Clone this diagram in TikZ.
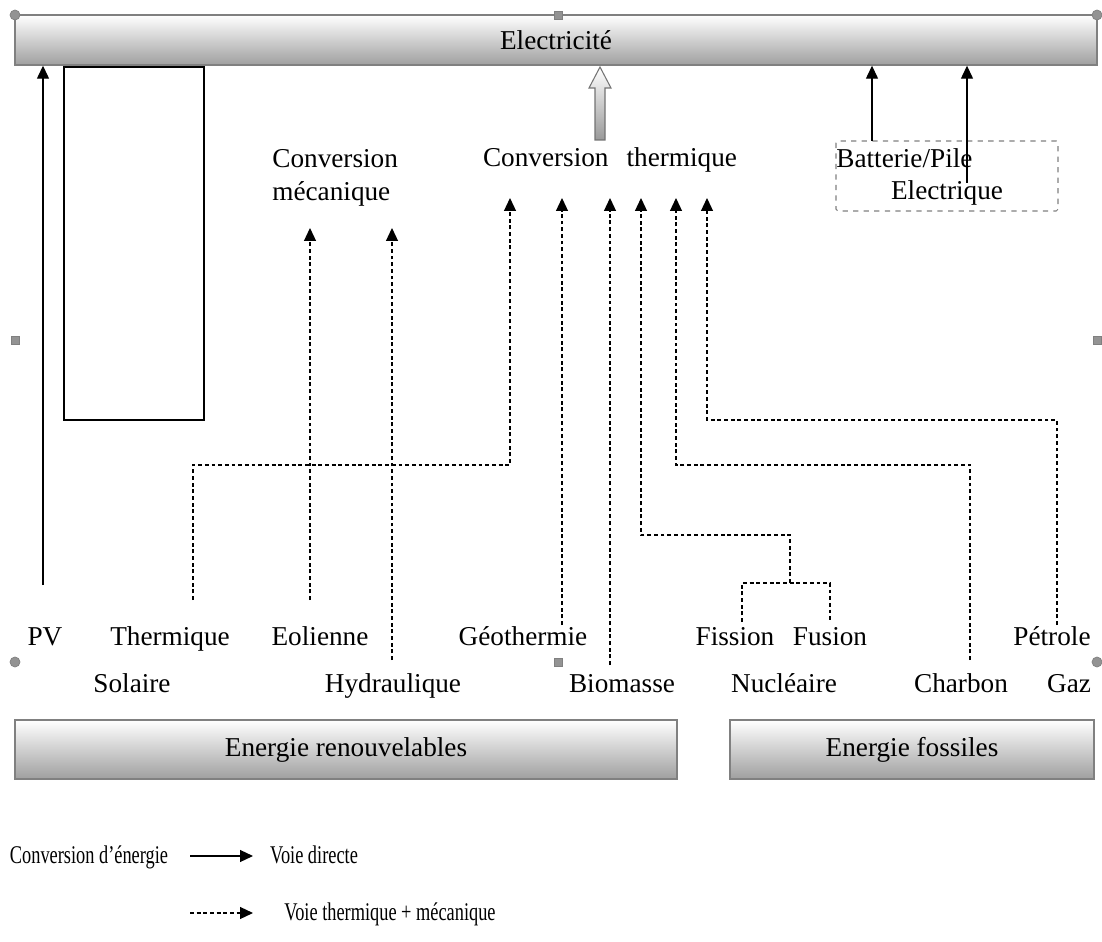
\documentclass[tikz,border=0pt]{standalone}
\usepackage{fontspec}
\setmainfont{Liberation Serif}
\usetikzlibrary{arrows.meta}

\tikzset{
  bar/.style={draw=gray, line width=0.8pt, top color=white, bottom color=gray!75, inner sep=0pt},
  lbl/.style={anchor=base, inner sep=0pt},
  legende/.style={anchor=base, inner sep=0pt, font=\fontsize{14.5}{17}\selectfont},
  fleche/.style={-{Triangle[length=0.26cm,width=0.24cm]}, line width=0.7pt},
  voie/.style={fleche, dash pattern=on 2.2pt off 1.6pt},
  tiret/.style={line width=0.7pt, dash pattern=on 2.2pt off 1.6pt},
  poignee/.style={fill=gray!85, draw=gray}
}

\begin{document}
\begin{tikzpicture}[x=0.02cm, y=-0.02cm, font=\fontsize{15.5}{18.7}\selectfont]
\useasboundingbox (0,0) rectangle (1102,942);

% Barres
\node[bar, minimum width=21.64cm, minimum height=1cm] (elec) at (556,40) {Electricité};
\node[bar, minimum width=13.24cm, minimum height=1.18cm] (renouv) at (346,749.5) {Energie renouvelables};
\node[bar, minimum width=7.28cm, minimum height=1.18cm] (fossile) at (912,749.5) {Energie fossiles};

% Cadre vide
\draw[line width=0.8pt] (64,67) rectangle (204,420);

% Conversions
\node[align=left, anchor=north west, inner sep=0pt] (convmeca) at (272,149) {Conversion\\mécanique};
\node[lbl] (convth) at (610,167) {Conversion\hspace{0.36cm}thermique};
\coordinate (entree-th) at (0,198);
\coordinate (entree-meca) at (0,228);

% Fleche creuse vers l'electricite
\draw[gray!90!black, line width=0.6pt, top color=white, bottom color=gray!80]
  (595,140) -- (595,88) -- (589,88) -- (600,67) -- (611,88) -- (605,88) -- (605,140) -- cycle;

% Batterie / pile
\draw[gray, dashed, line width=0.6pt, rounded corners=1pt] (836,141) rectangle (1058,211);
\node[anchor=base west, inner sep=0pt] (batterie) at (836,168) {Batterie/Pile};
\node[lbl] (electrique) at (947,200) {Electrique};
\coordinate (p-batt1) at (872,141);
\coordinate (p-batt2) at (967,183);
\draw[fleche] (p-batt1) -- (p-batt1 |- elec.south);
\draw[fleche] (p-batt2) -- (p-batt2 |- elec.south);

% Sources, premiere ligne
\node[lbl] (pv) at (45,645) {PV};
\node[lbl] (thermique) at (170,645) {Thermique};
\node[lbl] (eolienne) at (320,645) {Eolienne};
\node[lbl] (geotherm) at (523,645) {Géothermie};
\node[lbl] (fission) at (735,645) {Fission};
\node[lbl] (fusion) at (830,645) {Fusion};
\node[lbl] (petrole) at (1052,645) {Pétrole};

% Sources, deuxieme ligne
\node[lbl] (solaire) at (132,692) {Solaire};
\node[lbl] (hydrau) at (393,692) {Hydraulique};
\node[lbl] (biomasse) at (622,692) {Biomasse};
\node[lbl] (nucleaire) at (784,692) {Nucléaire};
\node[lbl] (charbon) at (961,692) {Charbon};
\node[lbl] (gaz) at (1069,692) {Gaz};

% Pieds des connecteurs
\coordinate (p-pv) at (43,585);
\coordinate (p-thermique) at (193,600);
\coordinate (p-eolienne) at (310,600);
\coordinate (p-hydrau) at (392,660);
\coordinate (p-geotherm) at (562,625);
\coordinate (p-biomasse) at (610,665);
\coordinate (p-fission) at (742,622);
\coordinate (p-fusion) at (830,622);
\coordinate (p-nucleaire) at (790,583);
\coordinate (p-charbon) at (970,660);
\coordinate (p-petrole) at (1057,625);

% Voie directe
\draw[fleche] (p-pv) -- (p-pv |- elec.south);

% Voie mecanique
\draw[voie] (p-eolienne) -- (p-eolienne |- entree-meca);
\draw[voie] (p-hydrau) -- (p-hydrau |- entree-meca);

% Voie thermique
\draw[voie] (p-thermique) |- (510,465) -- (510,0 |- entree-th);
\draw[voie] (p-geotherm) -- (p-geotherm |- entree-th);
\draw[voie] (p-biomasse) -- (p-biomasse |- entree-th);
\draw[tiret] (p-fission) |- (p-nucleaire) -| (p-fusion);
\draw[voie] (p-nucleaire) |- (641,535) -- (641,0 |- entree-th);
\draw[voie] (p-charbon) |- (676,465) -- (676,0 |- entree-th);
\draw[voie] (p-petrole) |- (707,420) -- (707,0 |- entree-th);

% Legende
\node[legende] (conv) at (89,863) {\scalebox{0.72}[1]{Conversion d’énergie}};
\node[legende] (directe) at (314,863) {\scalebox{0.72}[1]{Voie directe}};
\node[legende] (thermeca) at (390,920) {\scalebox{0.72}[1]{Voie thermique + mécanique}};
\coordinate (l-directe) at (190,856);
\coordinate (l-thermeca) at (190,913);
\draw[fleche] (l-directe) -- ++(63,0);
\draw[voie] (l-thermeca) -- ++(63,0);

% Poignees de selection
\foreach \px/\py in {15/15, 1097/15, 15/662, 1097/662}
  \filldraw[poignee] (\px,\py) circle (0.1cm);
\foreach \px/\py in {558/15, 15/340, 1097/340, 558/662}
  \filldraw[poignee] (\px-4,\py-4) rectangle (\px+4,\py+4);
\end{tikzpicture}
\end{document}
